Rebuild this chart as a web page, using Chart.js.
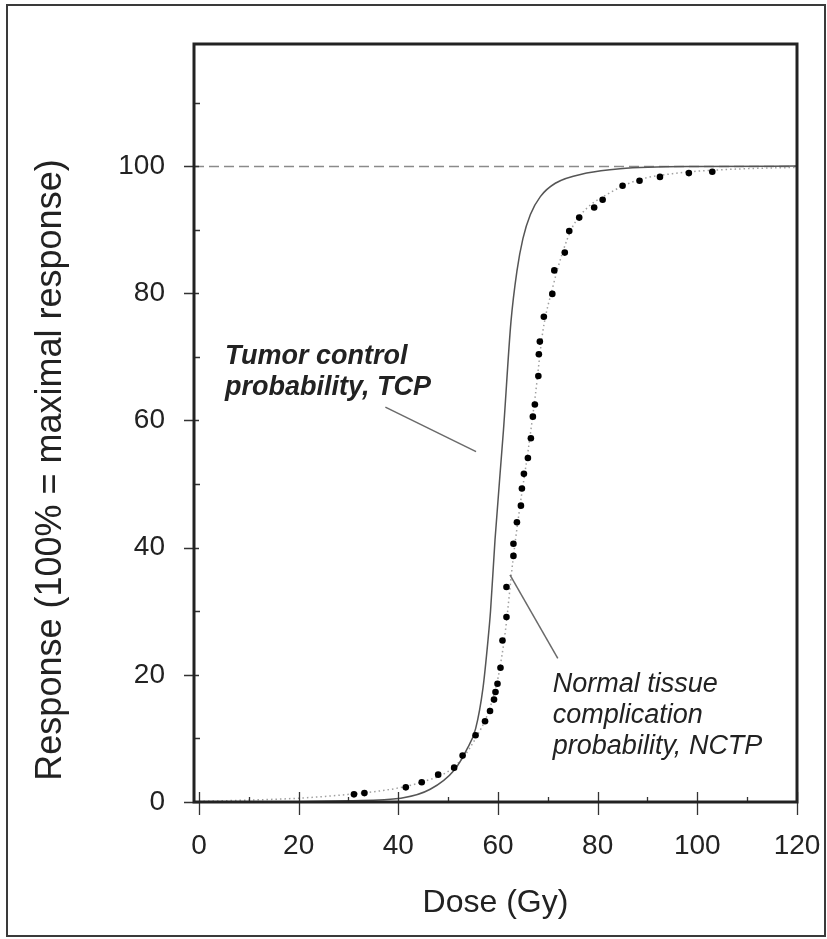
<!DOCTYPE html>
<html><head><meta charset="utf-8">
<script src="https://cdn.jsdelivr.net/npm/chart.js@4.4.1/dist/chart.umd.min.js"></script>
<style>html,body{margin:0;padding:0;background:#fff;}#wrap{width:827px;height:939px;}</style>
</head><body><div id="wrap"><canvas id="c" width="827" height="939"></canvas></div>
<script>
// ---- data ----
const ntcpDose = [31.1,33.2,41.5,44.7,48.0,51.2,52.9,55.5,57.4,58.4,59.2,59.5,59.9,60.5,60.9,61.7,61.7,63.1,63.1,63.8,64.6,64.8,65.2,66.0,66.6,67.0,67.4,68.1,68.2,68.4,69.2,70.9,71.3,73.4,74.3,76.3,79.3,81.0,85.0,88.4,92.5,98.3,103.0];
const ntcpResp = [1.2,1.4,2.3,3.1,4.3,5.4,7.3,10.5,12.7,14.3,16.1,17.3,18.6,21.1,25.4,29.1,33.8,38.7,40.6,44.0,46.6,49.3,51.6,54.1,57.2,60.6,62.5,67.0,70.4,72.4,76.3,79.9,83.6,86.4,89.8,91.9,93.5,94.7,96.9,97.7,98.3,98.9,99.1];
const tcpDose = [0,20,30,40.5,46.4,51.2,53.7,55.5,57.0,58.0,58.5,59.4,61.1,62.6,63.8,65.0,66.5,68.5,71.5,77.8,84.5,100,120];
const tcpResp = [0,0.05,0.2,0.6,2.0,5.0,8.2,11.5,18,25.5,30,41.2,58.5,75.5,83.5,88.6,92.4,95.2,97.3,98.9,99.6,99.95,100];
const fitDose = [0,10,20,30,40,45,50,53,55.5,58,60,61.5,63,64.5,66,67.5,69,71,73,75,78,82,86,90,95,100,110,120];
const fitResp = [0.1,0.3,0.6,1.2,2.2,3.2,4.8,7,10,14,19.5,27,38,47,55,64,74,81,86.5,90.5,93.5,95.6,97.2,98.2,98.8,99.2,99.6,99.8];
const xTicks = [0,20,40,60,80,100,120];
const yTicks = [0,20,40,60,80,100];
const xMinor = [10,30,50,70,90,110];
const yMinor = [10,30,50,70,90,110];
const refLevel = 100;
const xTitle = 'Dose (Gy)';
const yTitle = 'Response (100% = maximal response)';
const tcpLabel = ['Tumor control','probability, TCP'];
const ntcpLabel = ['Normal tissue','complication','probability, NCTP'];

// ---- annotation placement (data coordinates) ----
const ann = {
  tcpText: {x:5.2, y:68.9, lineGap:4.9},
  tcpLeader: [[37.4,62.1],[55.6,55.1]],
  ntcpText: {x:71.0, y:17.3, lineGap:4.85},
  ntcpLeader: [[62.4,35.7],[72.0,22.6]]
};

const FONT = '"Liberation Sans", Arial, Helvetica, sans-serif';
const pts = (xs, ys) => xs.map((v,i)=>({x:v,y:ys[i]}));

const frame = {
  id:'frame',
  beforeDatasetsDraw(chart){
    const {ctx, chartArea:a, scales:{y}} = chart;
    ctx.save();
    ctx.setLineDash([10,5]);
    ctx.strokeStyle='#8a8a8a'; ctx.lineWidth=1.6;
    const yr = Math.round(y.getPixelForValue(refLevel))+0.5;
    ctx.beginPath(); ctx.moveTo(a.left, yr); ctx.lineTo(a.right, yr); ctx.stroke();
    ctx.restore();
  },
  afterDraw(chart){
    const {ctx, chartArea:a, scales:{x,y}} = chart;
    ctx.save();
    // outer border
    ctx.strokeStyle='#3a3a3a'; ctx.lineWidth=2;
    ctx.strokeRect(7,5,818,931);
    // ticks
    ctx.strokeStyle='#333'; ctx.lineWidth=1.3;
    ctx.beginPath();
    yTicks.forEach(v=>{const p=Math.round(y.getPixelForValue(v))+0.5; ctx.moveTo(a.left-10,p); ctx.lineTo(a.left+5,p);});
    yMinor.forEach(v=>{const p=Math.round(y.getPixelForValue(v))+0.5; ctx.moveTo(a.left,p); ctx.lineTo(a.left+6,p);});
    xTicks.forEach(v=>{const p=Math.round(x.getPixelForValue(v))+0.5; ctx.moveTo(p,a.bottom-10); ctx.lineTo(p,a.bottom+13);});
    xMinor.forEach(v=>{const p=Math.round(x.getPixelForValue(v))+0.5; ctx.moveTo(p,a.bottom-5); ctx.lineTo(p,a.bottom);});
    ctx.stroke();
    // plot frame
    ctx.strokeStyle='#222'; ctx.lineWidth=3;
    ctx.strokeRect(a.left, a.top, a.right-a.left, a.bottom-a.top);
    // leaders
    ctx.strokeStyle='#6a6a6a'; ctx.lineWidth=1.5;
    [ann.tcpLeader, ann.ntcpLeader].forEach(l=>{
      ctx.beginPath();
      ctx.moveTo(x.getPixelForValue(l[0][0]), y.getPixelForValue(l[0][1]));
      ctx.lineTo(x.getPixelForValue(l[1][0]), y.getPixelForValue(l[1][1]));
      ctx.stroke();
    });
    // labels
    ctx.fillStyle='#222'; ctx.textAlign='left'; ctx.textBaseline='alphabetic';
    ctx.font='italic bold 27px '+FONT;
    tcpLabel.forEach((t,i)=>ctx.fillText(t, x.getPixelForValue(ann.tcpText.x), y.getPixelForValue(ann.tcpText.y - i*ann.tcpText.lineGap)));
    ctx.font='italic 27px '+FONT;
    ntcpLabel.forEach((t,i)=>ctx.fillText(t, x.getPixelForValue(ann.ntcpText.x), y.getPixelForValue(ann.ntcpText.y - i*ann.ntcpText.lineGap)));
    // y title
    ctx.save();
    ctx.translate(51, 470); ctx.rotate(-Math.PI/2);
    ctx.font='36px '+FONT; ctx.textAlign='center'; ctx.textBaseline='middle';
    ctx.fillText(yTitle, 0, 0);
    ctx.restore();
    ctx.restore();
  }
};

new Chart(document.getElementById('c'), {
  type:'scatter',
  data:{datasets:[
    {label:'NTCP data', data:pts(ntcpDose,ntcpResp), showLine:false, pointRadius:3.3, pointBackgroundColor:'#000', pointBorderWidth:0, borderColor:'#000'},
    {label:'TCP', data:pts(tcpDose,tcpResp), showLine:true, pointRadius:0, borderColor:'#555', borderWidth:1.5, cubicInterpolationMode:'monotone'},
    {label:'NTCP fit', data:pts(fitDose,fitResp), showLine:true, pointRadius:0, borderColor:'#a0a0a0', borderWidth:1.5, borderDash:[1.5,3], cubicInterpolationMode:'monotone'}
  ]},
  options:{
    responsive:false, animation:false, devicePixelRatio:1,
    layout:{padding:{left:0, top:44, right:30, bottom:0}},
    plugins:{legend:{display:false}, tooltip:{enabled:false}},
    scales:{
      x:{type:'linear', min:-1, max:120,
        afterBuildTicks:s=>{s.ticks = xTicks.map(v=>({value:v}));},
        afterFit:s=>{s.height=137; s.paddingLeft=0; s.paddingRight=0;},
        grid:{display:false, drawTicks:false}, border:{display:false},
        ticks:{font:{family:FONT,size:28}, color:'#222', padding:27, maxRotation:0, autoSkip:false},
        title:{display:true, text:xTitle, color:'#222', font:{family:FONT,size:32}, padding:{top:0,bottom:17}}
      },
      y:{type:'linear', min:0, max:119.2,
        afterBuildTicks:s=>{s.ticks = yTicks.map(v=>({value:v}));},
        afterFit:s=>{s.width=194; s.paddingTop=0; s.paddingBottom=0;},
        grid:{display:false, drawTicks:false}, border:{display:false},
        ticks:{font:{family:FONT,size:28}, color:'#222', padding:29, autoSkip:false}
      }
    }
  },
  plugins:[frame]
});
</script></body></html>
